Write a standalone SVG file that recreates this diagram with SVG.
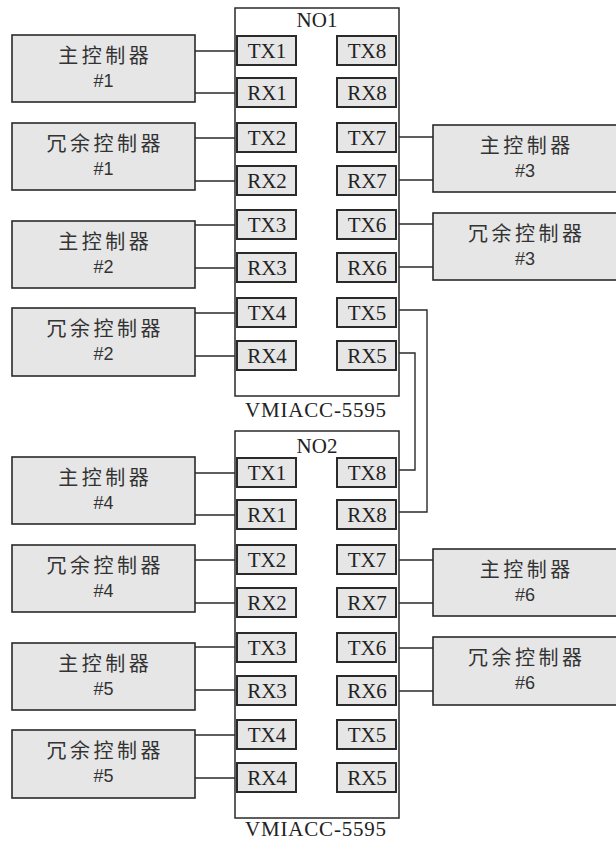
<svg xmlns="http://www.w3.org/2000/svg" width="616" height="842" viewBox="0 0 616 842">
<style>
.board{fill:#fff;stroke:#2a2a2a;stroke-width:1.5}
.ctrl{fill:#e6e6e6;stroke:#2a2a2a;stroke-width:1.6}
.port{fill:#e6e6e6;stroke:#2a2a2a;stroke-width:2}
.pt{font-family:"Liberation Serif","Times New Roman",serif;font-size:21px;fill:#222;text-anchor:middle}
.bt{font-family:"Liberation Serif","Times New Roman",serif;font-size:21px;fill:#222;text-anchor:middle}
.cn{font-family:"Noto Sans CJK SC","Noto Sans",sans-serif;font-size:20px;fill:#333;text-anchor:middle;letter-spacing:3.5px}
.num{font-family:"Liberation Sans","Noto Sans CJK SC",sans-serif;font-size:18px;fill:#333;text-anchor:middle}
.wire{fill:none;stroke:#2a2a2a;stroke-width:1.4}
</style>
<defs>
<rect id="p" class="port" width="59" height="29"/>
</defs>

<g id="connectors">
<path class="wire" d="M195 51H237M195 93H237M195 138H237M195 181H237M195 225H237M195 268H237M195 313H237M195 356H237"/>
<path class="wire" d="M396 137H433M396 180H433M396 224H433M396 267H433"/>
<path class="wire" d="M195 473H237M195 515H237M195 560H237M195 603H237M195 647H237M195 690H237M195 735H237M195 778H237"/>
<path class="wire" d="M396 560H433M396 603H433M396 648H433M396 691H433"/>
<path class="wire" d="M396 310H427V512H396"/>
<path class="wire" d="M396 353H415V470H396"/>
</g>

<g id="board1">
<rect class="board" x="235" y="8" width="164" height="388"/>
<text class="bt" x="317" y="27">NO1</text>
<text class="bt" x="316" y="417" style="letter-spacing:0.8px">VMIACC-5595</text>
</g>
<g id="board1-ports">
<use href="#p" x="237" y="36"/><text class="pt" x="267" y="58">TX1</text>
<use href="#p" x="237" y="78"/><text class="pt" x="267" y="100">RX1</text>
<use href="#p" x="237" y="123"/><text class="pt" x="267" y="145">TX2</text>
<use href="#p" x="237" y="166"/><text class="pt" x="267" y="188">RX2</text>
<use href="#p" x="237" y="210"/><text class="pt" x="267" y="232">TX3</text>
<use href="#p" x="237" y="253"/><text class="pt" x="267" y="275">RX3</text>
<use href="#p" x="237" y="298"/><text class="pt" x="267" y="320">TX4</text>
<use href="#p" x="237" y="341"/><text class="pt" x="267" y="363">RX4</text>
<use href="#p" x="337" y="36"/><text class="pt" x="367" y="58">TX8</text>
<use href="#p" x="337" y="78"/><text class="pt" x="367" y="100">RX8</text>
<use href="#p" x="337" y="123"/><text class="pt" x="367" y="145">TX7</text>
<use href="#p" x="337" y="166"/><text class="pt" x="367" y="188">RX7</text>
<use href="#p" x="337" y="210"/><text class="pt" x="367" y="232">TX6</text>
<use href="#p" x="337" y="253"/><text class="pt" x="367" y="275">RX6</text>
<use href="#p" x="337" y="298"/><text class="pt" x="367" y="320">TX5</text>
<use href="#p" x="337" y="341"/><text class="pt" x="367" y="363">RX5</text>
</g>

<g id="board2">
<rect class="board" x="235" y="431" width="164" height="387"/>
<text class="bt" x="317" y="453">NO2</text>
<text class="bt" x="316" y="836" style="letter-spacing:0.8px">VMIACC-5595</text>
</g>
<g id="board2-ports">
<use href="#p" x="237" y="458"/><text class="pt" x="267" y="480">TX1</text>
<use href="#p" x="237" y="500"/><text class="pt" x="267" y="522">RX1</text>
<use href="#p" x="237" y="545"/><text class="pt" x="267" y="567">TX2</text>
<use href="#p" x="237" y="588"/><text class="pt" x="267" y="610">RX2</text>
<use href="#p" x="237" y="633"/><text class="pt" x="267" y="655">TX3</text>
<use href="#p" x="237" y="676"/><text class="pt" x="267" y="698">RX3</text>
<use href="#p" x="237" y="720"/><text class="pt" x="267" y="742">TX4</text>
<use href="#p" x="237" y="763"/><text class="pt" x="267" y="785">RX4</text>
<use href="#p" x="337" y="458"/><text class="pt" x="367" y="480">TX8</text>
<use href="#p" x="337" y="500"/><text class="pt" x="367" y="522">RX8</text>
<use href="#p" x="337" y="545"/><text class="pt" x="367" y="567">TX7</text>
<use href="#p" x="337" y="588"/><text class="pt" x="367" y="610">RX7</text>
<use href="#p" x="337" y="633"/><text class="pt" x="367" y="655">TX6</text>
<use href="#p" x="337" y="676"/><text class="pt" x="367" y="698">RX6</text>
<use href="#p" x="337" y="720"/><text class="pt" x="367" y="742">TX5</text>
<use href="#p" x="337" y="763"/><text class="pt" x="367" y="785">RX5</text>
</g>

<g id="main1"><rect class="ctrl" x="12" y="35" width="183" height="67"/><text class="cn" x="105.3" y="63">主控制器</text><text class="num" x="103.5" y="87">#1</text></g>
<g id="red1"><rect class="ctrl" x="12" y="123" width="183" height="67"/><text class="cn" x="105.3" y="151">冗余控制器</text><text class="num" x="103.5" y="175">#1</text></g>
<g id="main2"><rect class="ctrl" x="12" y="221" width="183" height="67"/><text class="cn" x="105.3" y="249">主控制器</text><text class="num" x="103.5" y="273">#2</text></g>
<g id="red2"><rect class="ctrl" x="12" y="308" width="183" height="68"/><text class="cn" x="105.3" y="336">冗余控制器</text><text class="num" x="103.5" y="360">#2</text></g>

<g id="main3"><rect class="ctrl" x="433" y="125" width="185" height="67"/><text class="cn" x="526.8" y="153">主控制器</text><text class="num" x="525" y="177">#3</text></g>
<g id="red3"><rect class="ctrl" x="433" y="213" width="185" height="67"/><text class="cn" x="526.8" y="241">冗余控制器</text><text class="num" x="525" y="265">#3</text></g>

<g id="main4"><rect class="ctrl" x="12" y="457" width="183" height="67"/><text class="cn" x="105.3" y="485">主控制器</text><text class="num" x="103.5" y="509">#4</text></g>
<g id="red4"><rect class="ctrl" x="12" y="545" width="183" height="67"/><text class="cn" x="105.3" y="573">冗余控制器</text><text class="num" x="103.5" y="597">#4</text></g>
<g id="main5"><rect class="ctrl" x="12" y="643" width="183" height="67"/><text class="cn" x="105.3" y="671">主控制器</text><text class="num" x="103.5" y="695">#5</text></g>
<g id="red5"><rect class="ctrl" x="12" y="730" width="183" height="68"/><text class="cn" x="105.3" y="758">冗余控制器</text><text class="num" x="103.5" y="782">#5</text></g>

<g id="main6"><rect class="ctrl" x="433" y="549" width="185" height="67"/><text class="cn" x="526.8" y="577">主控制器</text><text class="num" x="525" y="601">#6</text></g>
<g id="red6"><rect class="ctrl" x="433" y="637" width="185" height="68"/><text class="cn" x="526.8" y="665">冗余控制器</text><text class="num" x="525" y="689">#6</text></g>
</svg>
